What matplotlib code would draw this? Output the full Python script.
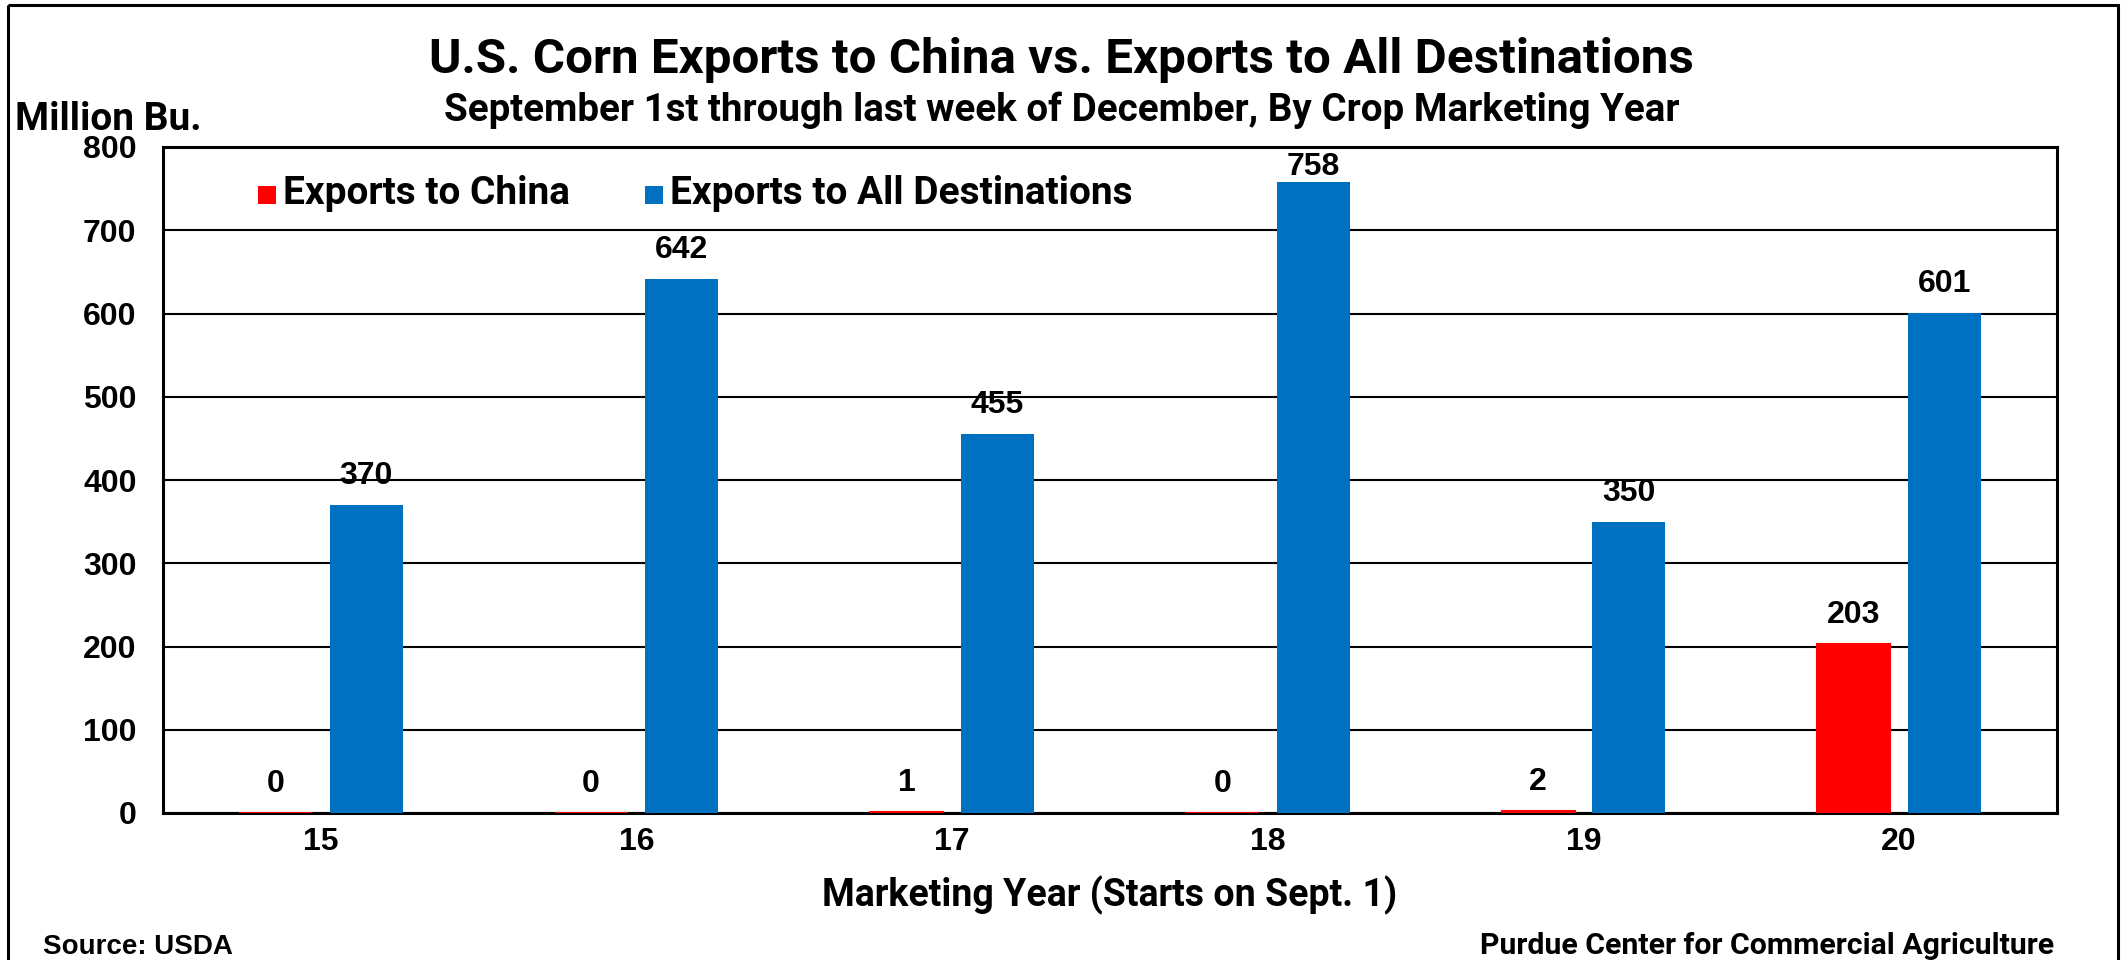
import matplotlib
matplotlib.use("Agg")
import matplotlib.pyplot as plt
from matplotlib.patches import Rectangle
from matplotlib.transforms import Affine2D
import numpy as np

# Marketing years and export totals, Sept 1 through late December (million bushels)
years = ["15", "16", "17", "18", "19", "20"]
china_exports = [0, 0, 1, 0, 2, 203]
all_exports = [370, 642, 455, 758, 350, 601]
y_ticks = [0, 100, 200, 300, 400, 500, 600, 700, 800]

title = "U.S. Corn Exports to China vs. Exports to All Destinations"
subtitle = "September 1st through last week of December, By Crop Marketing Year"
y_unit = "Million Bu."
x_title = "Marketing Year (Starts on Sept. 1)"
source = "Source: USDA"
credit = "Purdue Center for Commercial Agriculture"
series_names = ["Exports to China", "Exports to All Destinations"]

RED = "#FF0000"
BLUE = "#0070C0"
TXT = "Roboto"
NUM = "Liberation Sans"

W, H = 2123, 960
fig = plt.figure(figsize=(W / 100, H / 100), dpi=100)
fig.patch.set_facecolor("white")

# pixel coordinates measured from the top-left corner of the canvas
px = Affine2D().scale(1, -1).translate(0, H)


def ftext(x, y, s, **kw):
    fig.text(x / W, 1 - y / H, s, **kw)


AX_TOP, AX_BOTTOM = 147, 813
ax = fig.add_axes([163 / W, 1 - AX_BOTTOM / H, 1894 / W, (AX_BOTTOM - AX_TOP) / H])

x = np.arange(len(years))
bar_w = 0.231
off = 0.144
y_max = y_ticks[-1]

b_china = ax.bar(x - off, china_exports, bar_w, color=RED, edgecolor=RED,
                 linewidth=1.5, zorder=3, label=series_names[0])
b_all = ax.bar(x + off, all_exports, bar_w, color=BLUE, linewidth=0,
               zorder=3, label=series_names[1])

# value labels above every bar, kept inside the plot frame
px_per_unit = (AX_BOTTOM - AX_TOP) / y_max
for bars, vals in ((b_china, china_exports), (b_all, all_exports)):
    for rect, v in zip(bars, vals):
        headroom = (y_max - v) * px_per_unit
        lift_px = min(21, headroom - 28)
        ax.annotate(f"{v}", (rect.get_x() + rect.get_width() / 2, v),
                    xytext=(0, lift_px * 0.72), textcoords="offset points",
                    ha="center", va="baseline", fontsize=23,
                    fontweight="bold", family=NUM, zorder=5)

ax.set_xlim(-0.5, len(years) - 0.5)
ax.set_ylim(0, y_max)
ax.set_yticks(y_ticks)
ax.set_yticklabels([str(t) for t in y_ticks])
ax.set_xticks(x)
ax.set_xticklabels(years)
for lab in ax.get_xticklabels() + ax.get_yticklabels():
    lab.set_fontfamily(NUM)
    lab.set_fontweight("bold")
    lab.set_fontsize(23)
ax.tick_params(axis="both", length=0)
ax.tick_params(axis="y", pad=19)
ax.tick_params(axis="x", pad=10)

ax.grid(axis="y", color="black", linewidth=1.5, zorder=1)
ax.set_axisbelow(True)
for sp in ax.spines.values():
    sp.set_color("black")
    sp.set_linewidth(2.2)

# legend: colour square followed by series name
leg_items = [(258, 283, RED, series_names[0]), (645, 670, BLUE, series_names[1])]
for sq_x, tx, col, name in leg_items:
    fig.add_artist(Rectangle((sq_x, 204), 18, -18, transform=px,
                             facecolor=col, edgecolor="none"))
    ftext(tx, 204, name, ha="left", va="baseline", family=TXT,
          fontweight="bold", fontsize=28)

# titles and annotations
ftext(W / 2, 73, title, ha="center", va="baseline",
      family=TXT, fontweight="bold", fontsize=35.6)
ftext(W / 2, 121, subtitle, ha="center", va="baseline",
      family=TXT, fontweight="bold", fontsize=27.7)
ftext(15, 130, y_unit, ha="left", va="baseline",
      family=TXT, fontweight="bold", fontsize=28)
ftext(1110, 906, x_title, ha="center", va="baseline",
      family=TXT, fontweight="bold", fontsize=27)
ftext(43, 954, source, ha="left", va="baseline",
      family=NUM, fontweight="bold", fontsize=20)
ftext(2054, 954, credit, ha="right", va="baseline",
      family=TXT, fontweight="bold", fontsize=21.8)

# outer frame around the whole graphic
fig.add_artist(Rectangle((8, 5), 2110, 1000, transform=px, fill=False,
                         edgecolor="black", linewidth=2.2, clip_on=False))

fig.savefig("out.png", dpi=100, facecolor="white")
